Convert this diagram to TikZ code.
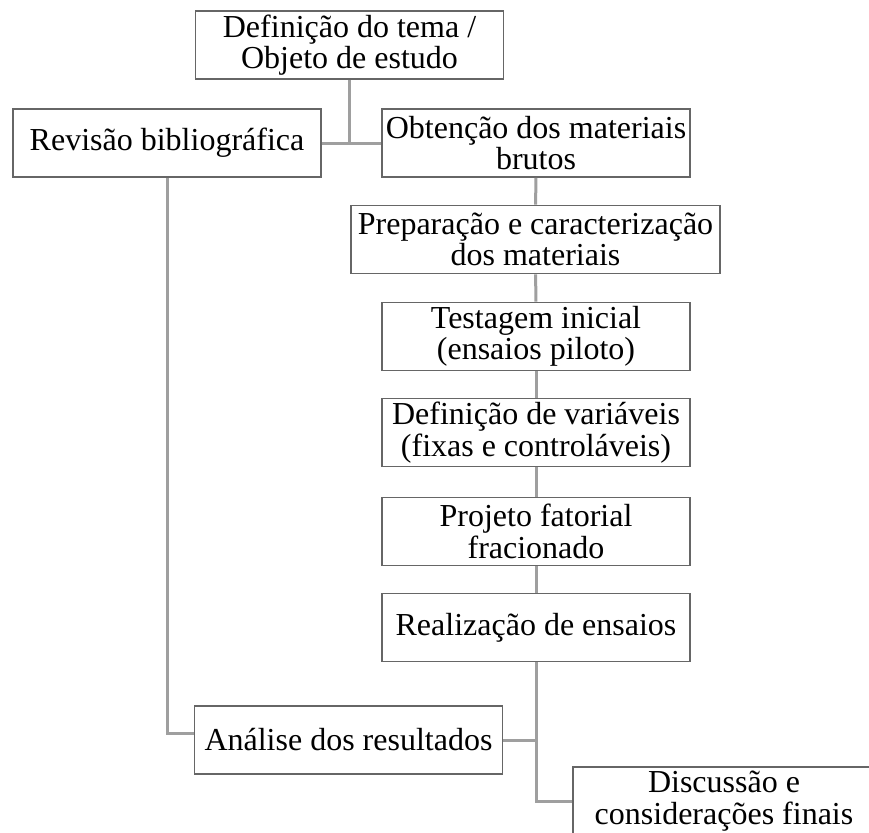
\documentclass[tikz,border=0pt]{standalone}
\usepackage{fontspec}
\setmainfont{Liberation Serif}
\usepackage{tikz}

\begin{document}
\begin{tikzpicture}[x=1pt, y=-1pt,
  stage/.style={draw=black!60, line width=1.6pt, fill=white,
                minimum width=308pt, minimum height=68pt, inner sep=2pt,
                font=\fontsize{32}{31.5}\selectfont, align=center},
  link/.style={gray!75, line width=3pt}]
  % page frame, the last box runs off the edge
  \fill[white] (0,0) rectangle (869,832);
  \clip (0,0) rectangle (869,832);
  % the main column of steps
  \node[stage] (tema) at (349.5,45)  {Definição do tema /\\Objeto de estudo};
  \node[stage] (rev)  at (167,143)   {Revisão bibliográfica};
  \node[stage] (obt)  at (536,143)   {Obtenção dos materiais\\brutos};
  \node[stage, minimum width=369pt] (prep) at (535.5,239.5)
    {Preparação e caracterização\\dos materiais};
  \node[stage] (test) at (536,336.5) {Testagem inicial\\(ensaios piloto)};
  \node[stage] (var)  at (536,432.5) {Definição de variáveis\\(fixas e controláveis)};
  \node[stage] (proj) at (536,531.5) {Projeto fatorial\\fracionado};
  \node[stage] (real) at (536,627.5) {Realização de ensaios};
  % results and closing
  \node[stage] (ana)  at (348.5,740) {Análise dos resultados};
  \node[stage, minimum width=302pt] (disc) at (724,801)
    {Discussão e\\considerações finais};
  % connectors
  \draw[link] (rev) -- (obt);
  \draw[link] (tema) -- (tema |- obt);
  \draw[link] (obt) -- (prep);
  \draw[link] (prep) -- (test);
  \draw[link] (test) -- (var);
  \draw[link] (var) -- (proj);
  \draw[link] (proj) -- (real);
  \draw[link] (real.south) |- (disc.west);
  \draw[link] (ana) -- (real |- ana);
  \draw[link] (rev.south) |- ([yshift=7pt]ana.west);
\end{tikzpicture}
\end{document}
